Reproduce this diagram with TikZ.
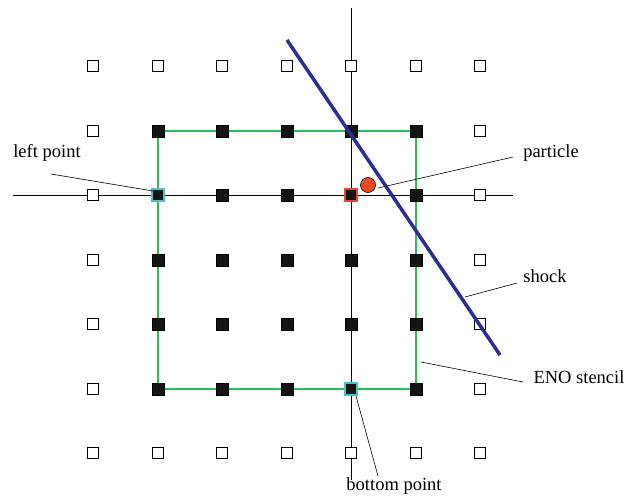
\documentclass[tikz,border=0pt]{standalone}
\usepackage{fontspec}
\setmainfont{Liberation Serif}
\definecolor{stgreen}{RGB}{40,190,90}
\definecolor{shockblue}{RGB}{45,45,150}
\definecolor{cyanbox}{RGB}{70,195,195}
\definecolor{partred}{RGB}{232,75,35}
\begin{document}
\begin{tikzpicture}[x=1pt,y=-1pt,
  opensq/.style={draw=black,fill=white,line width=0.8pt,minimum size=11pt,inner sep=0pt},
  fullsq/.style={draw=black,fill=black!92,line width=0.6pt,minimum size=12pt,inner sep=0pt},
  special/.style={fill=black!92,line width=2pt,minimum size=12pt,inner sep=0pt},
  lbl/.style={font=\fontsize{18.5}{21}\selectfont,inner sep=1pt},
  leader/.style={black,line width=0.6pt}]
\useasboundingbox (0,0) rectangle (627,496);
% axes
\coordinate (hl) at (13,195); \coordinate (hr) at (513,195);
\coordinate (vt) at (351,8); \coordinate (vb) at (351,480);
\draw[line width=0.6pt] (hl) -- (hr);
\draw[line width=0.6pt] (vt) -- (vb);
% stencil
\coordinate (s1) at (158,131); \coordinate (s2) at (416,389);
\draw[stgreen,line width=1.3pt] (s1) rectangle (s2);
% grid
\foreach \i/\x in {0/93,1/158,2/222,3/287,4/351,5/416,6/480}{
  \foreach \j/\y in {0/66,1/131,2/195,3/260,4/324,5/389,6/453}{
    \pgfmathtruncatemacro{\inside}{(\i>0)&&(\i<6)&&(\j>0)&&(\j<6)}
    \ifnum\inside=1
      \node[fullsq] (g\i\j) at (\x,\y) {};
    \else
      \node[opensq] (g\i\j) at (\x,\y) {};
    \fi
  }
}
% special points
\node[special,draw=cyanbox] (left) at (158,195) {};
\node[special,draw=cyanbox] (bottom) at (351,389) {};
\node[special,draw=partred] (cell) at (351,195) {};
% shock
\coordinate (sa) at (287,40); \coordinate (sb) at (500,355);
\draw[shockblue,line width=3.5pt] (sa) -- (sb);
% particle
\node[circle,draw=black,fill=partred,line width=0.6pt,minimum size=15pt,inner sep=0pt] (part) at (368,185) {};
% labels
\node[lbl] (tpart) at (551,153) {particle};
\node[lbl] (tleft) at (47,153) {left point};
\node[lbl] (tshock) at (545,276) {shock};
\node[lbl] (teno) at (579,377) {ENO stencil};
\node[lbl] (tbot) at (394,486) {bottom point};
% leaders
\coordinate (lp1) at (378,188); \coordinate (lp2) at (513,157);
\draw[leader] (lp1) -- (lp2);
\coordinate (ll1) at (51,174); \coordinate (ll2) at (153,191);
\draw[leader] (ll1) -- (ll2);
\coordinate (ls1) at (465,297); \coordinate (ls2) at (517,283);
\draw[leader] (ls1) -- (ls2);
\coordinate (le1) at (421,362); \coordinate (le2) at (523,382);
\draw[leader] (le1) -- (le2);
\coordinate (lb1) at (356,396); \coordinate (lb2) at (378,476);
\draw[leader] (lb1) -- (lb2);
\end{tikzpicture}
\end{document}
